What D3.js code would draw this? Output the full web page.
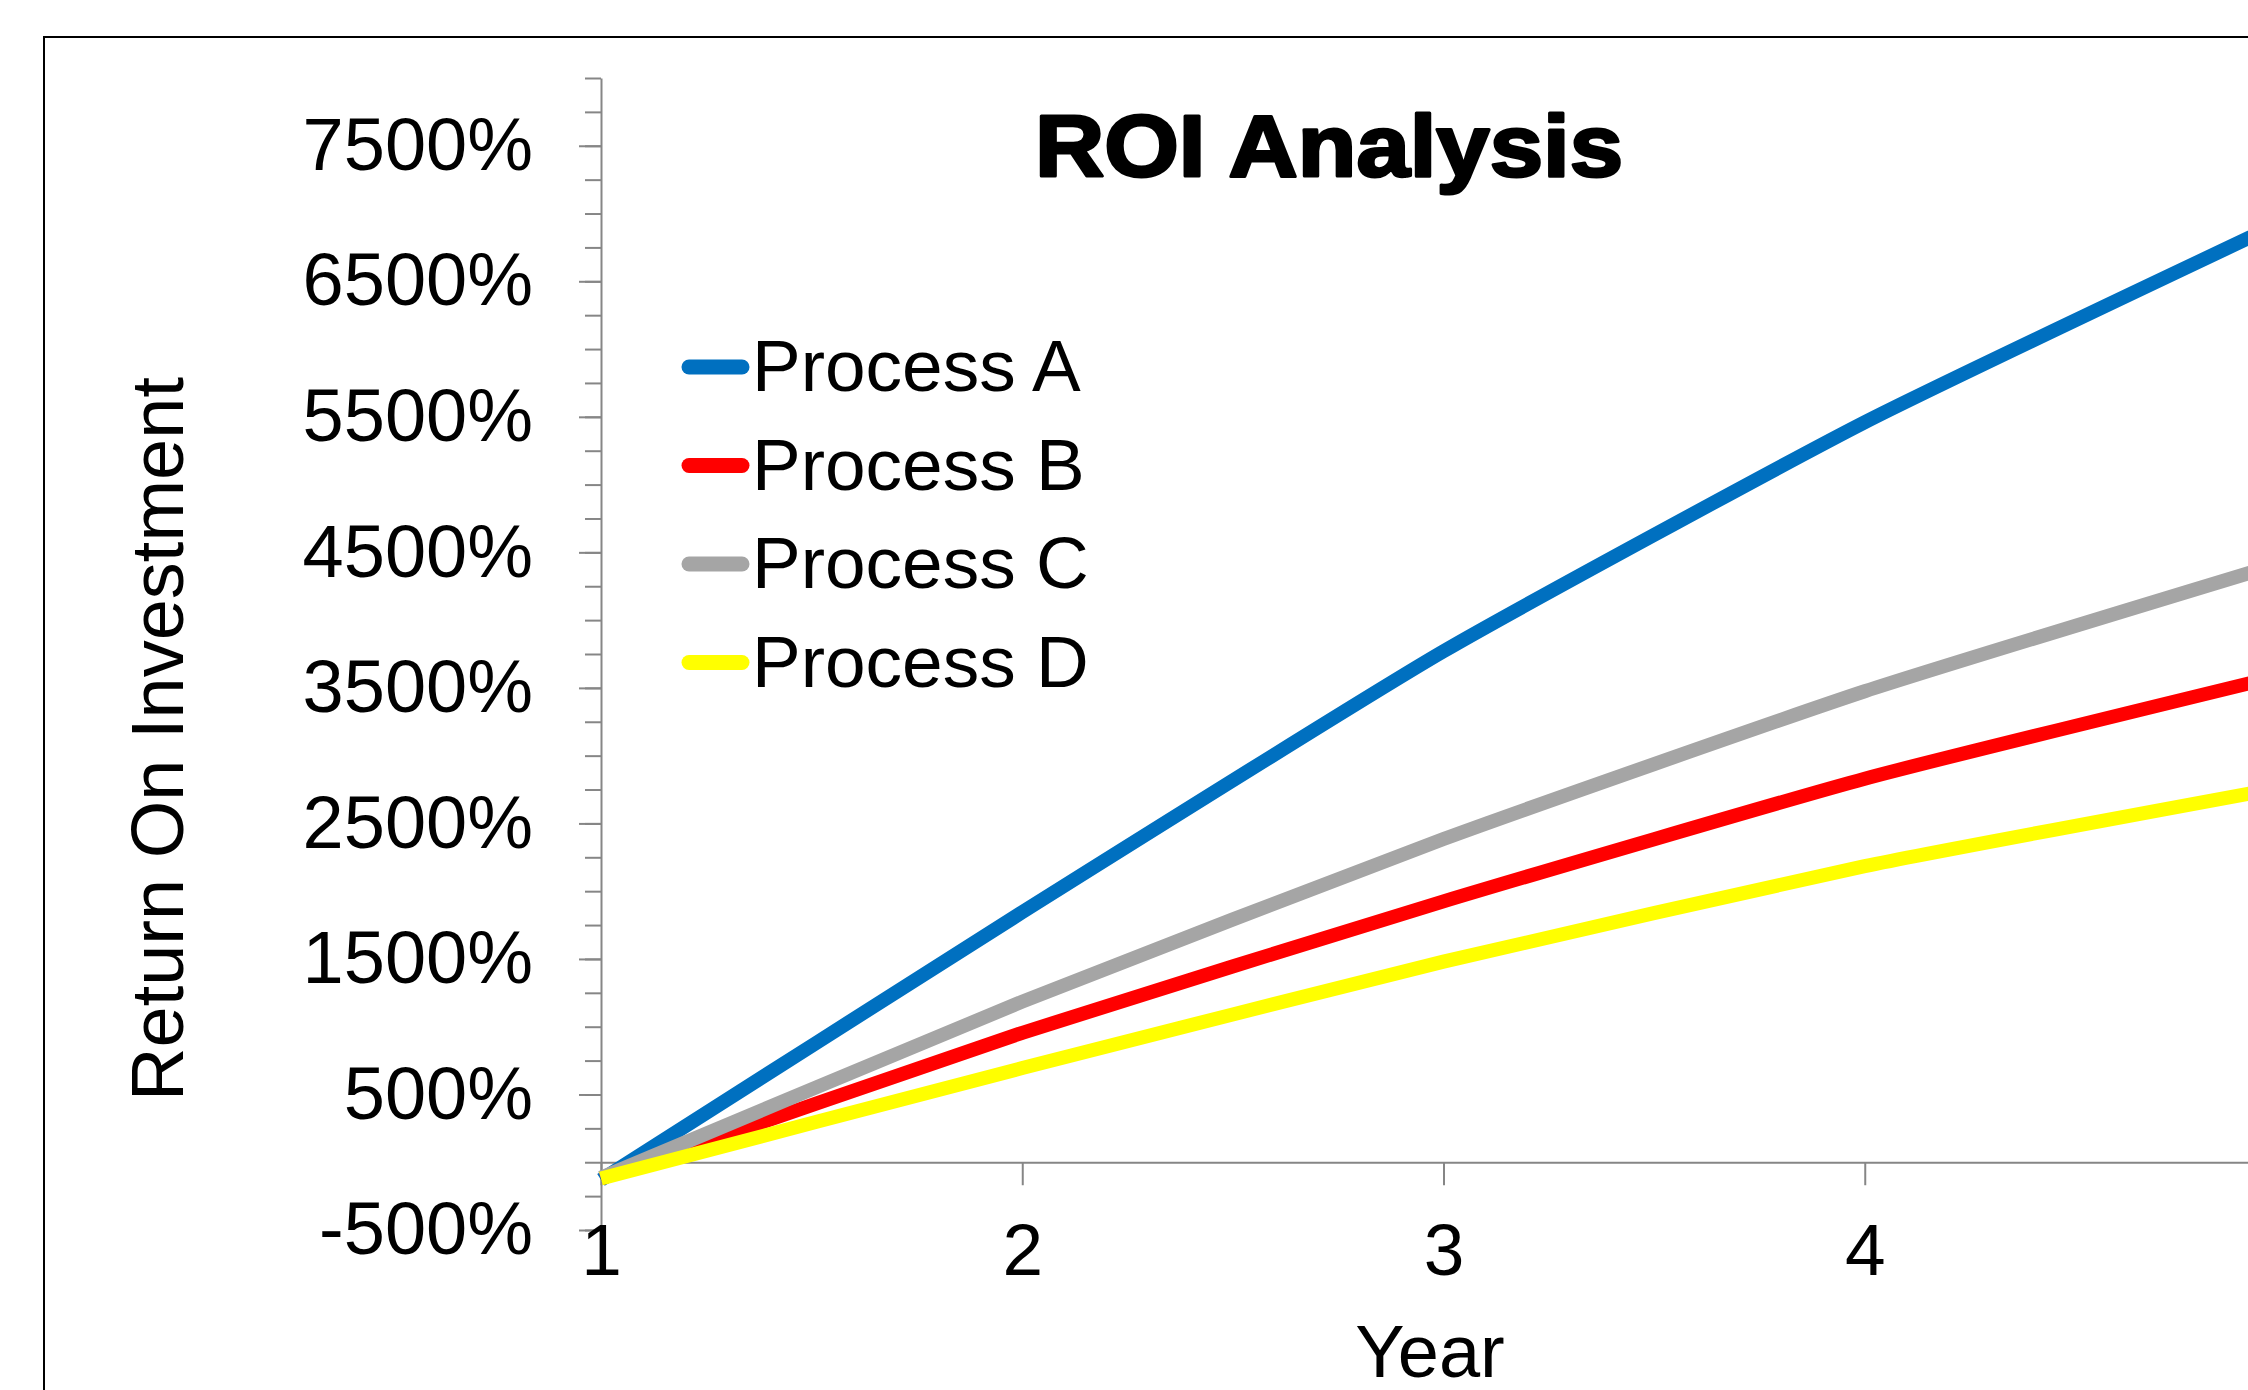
<!DOCTYPE html>
<html>
<head>
<meta charset="utf-8">
<script src="https://cdn.jsdelivr.net/npm/d3@7"></script>
<style>
  body { margin: 0; background: #fff; overflow: hidden; }
  svg { display: block; font-family: "Liberation Sans", Arial, sans-serif; }
</style>
</head>
<body>
<div id="root"></div>
<script>
// years on the x axis
const years = [1, 2, 3, 4, 5];

// ROI per year, in percent
const processA = [-130, 1845, 3770, 5460, 6950];
const processB = [-120, 955, 1925, 2830, 3600];
const processC = [-115, 1185, 2385, 3475, 4430];
const processD = [-120, 695, 1480, 2185, 2770];

const seriesNames = ["Process A", "Process B", "Process C", "Process D"];
const seriesColors = ["#0070C0", "#FF0000", "#A5A5A5", "#FFFF00"];
const seriesValues = [processA, processB, processC, processD];

const yMajor = d3.range(-500, 8001, 1000);
const yMinor = d3.range(-500, 8001, 250);

const W = 2248, H = 1390;

const svg = d3.select("#root")
    .append("svg")
    .attr("width", W)
    .attr("height", H);

svg.append("rect").attr("width", W).attr("height", H).attr("fill", "#fff");

// chart frame, runs off the right and bottom of the picture
svg.append("rect")
    .attr("x", 44).attr("y", 37)
    .attr("width", 2400).attr("height", 1500)
    .attr("fill", "none")
    .attr("stroke", "#000")
    .attr("stroke-width", 2);

const x = d3.scaleLinear().domain([1, 5]).range([601, 2286]);
const y = d3.scaleLinear().domain([-500, 8000]).range([1230, 78]);

const axisColor = "#868686";

// minor y ticks
svg.append("g")
    .attr("transform", "translate(601,0)")
    .call(d3.axisLeft(y).tickValues(yMinor).tickSize(16).tickFormat(""))
    .call(g => g.select(".domain").remove())
    .call(g => g.selectAll("line").attr("stroke", axisColor).attr("stroke-width", 2));

// major y ticks with labels
const yAxis = svg.append("g")
    .attr("transform", "translate(601,0)")
    .call(d3.axisLeft(y).tickValues(yMajor).tickSize(22).tickSizeOuter(0).tickPadding(46)
        .tickFormat(d => d + "%"));
yAxis.select(".domain").attr("stroke", axisColor).attr("stroke-width", 2);
yAxis.selectAll("line").attr("stroke", axisColor).attr("stroke-width", 2);
yAxis.selectAll("text")
    .attr("font-size", 74)
    .attr("font-family", "Liberation Sans, Arial, sans-serif")
    .attr("fill", "#000");

// x axis sits on the zero line, labels low; only years inside the picture get a tick
const visibleYears = years.filter(d => x(d) < W);
const xAxis = svg.append("g")
    .attr("transform", `translate(0,${y(0)})`)
    .call(d3.axisBottom(x).tickValues(visibleYears).tickSize(23).tickSizeOuter(0).tickFormat(d3.format("d")));
xAxis.select(".domain").attr("stroke", axisColor).attr("stroke-width", 2);
xAxis.selectAll("line").attr("stroke", axisColor).attr("stroke-width", 2);
xAxis.selectAll("text")
    .attr("y", 1275 - y(0))
    .attr("dy", 0)
    .attr("font-size", 73)
    .attr("font-family", "Liberation Sans, Arial, sans-serif")
    .attr("fill", "#000");

// series lines, lightly smoothed like the spreadsheet
const line = d3.line()
    .x((d, i) => x(years[i]))
    .y(d => y(d))
    .curve(d3.curveCardinal.tension(0.5));

seriesValues.forEach((vals, i) => {
    svg.append("path")
        .datum(vals)
        .attr("d", line)
        .attr("fill", "none")
        .attr("stroke", seriesColors[i])
        .attr("stroke-width", 14)
        .attr("stroke-linejoin", "round");
});

// title
svg.append("text")
    .attr("x", 1035).attr("y", 176)
    .attr("textLength", 588)
    .attr("lengthAdjust", "spacingAndGlyphs")
    .attr("font-size", 88)
    .attr("font-weight", "bold")
    .attr("stroke", "#000")
    .attr("stroke-width", 3)
    .attr("stroke-linejoin", "round")
    .text("ROI Analysis");

// axis titles
svg.append("text")
    .attr("transform", "translate(183,739) rotate(-90)")
    .attr("text-anchor", "middle")
    .attr("font-size", 74)
    .text("Return On Investment");

svg.append("text")
    .attr("x", 1430).attr("y", 1377)
    .attr("text-anchor", "middle")
    .attr("font-size", 74)
    .text("Year");

// legend
const legend = svg.append("g");
seriesNames.forEach((name, i) => {
    const cy = 367 + i * 98.5;
    legend.append("line")
        .attr("x1", 689).attr("x2", 742)
        .attr("y1", cy).attr("y2", cy)
        .attr("stroke", seriesColors[i])
        .attr("stroke-width", 15)
        .attr("stroke-linecap", "round");
    legend.append("text")
        .attr("x", 752).attr("y", cy + 24)
        .attr("font-size", 73)
        .text(name);
});
</script>
</body>
</html>
